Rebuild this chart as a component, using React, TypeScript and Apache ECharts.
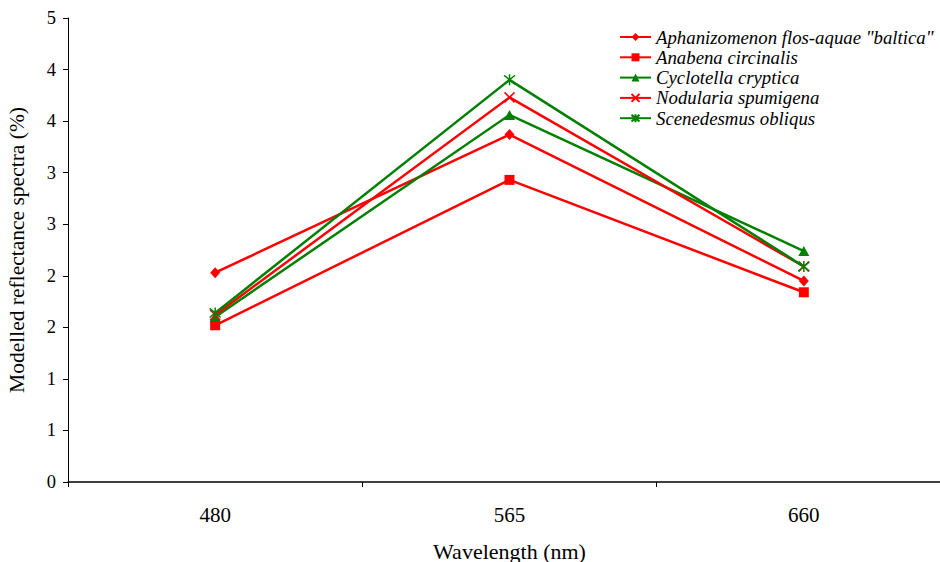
import React, { useEffect, useRef } from "react";
import * as echarts from "echarts";

// Wavelength categories (nm)
const wavelengths = ["480", "565", "660"];

// Modelled reflectance (%) per species
const aphanizomenon = [2.03, 3.37, 1.95];
const anabena = [1.52, 2.93, 1.84];
const cyclotella = [1.6, 3.56, 2.24];
const nodularia = [1.62, 3.73, 2.09];
const scenedesmus = [1.64, 3.9, 2.09];

const seriesNames = [
  'Aphanizomenon flos-aquae "baltica"',
  "Anabena circinalis",
  "Cyclotella cryptica",
  "Nodularia spumigena",
  "Scenedesmus obliqus",
];

const RED = "#ff0000";
const GREEN = "#008000";
const SERIF = "Liberation Serif";

const CROSS = "path://M0,0L10,10M10,0L0,10";
const STAR = "path://M0,0L10,10M10,0L0,10M5,-1L5,11";

export default function App() {
  const ref = useRef<HTMLDivElement>(null);

  useEffect(() => {
    if (!ref.current) return;
    const chart = echarts.init(ref.current, undefined, { renderer: "svg" });

    const line = (
      name: string,
      data: number[],
      color: string,
      symbol: string,
      symbolSize: number | number[],
      stroked = false
    ) => ({
      name,
      type: "line",
      data,
      symbol,
      symbolSize,
      showAllSymbol: true,
      lineStyle: { color, width: 2.5 },
      itemStyle: stroked
        ? { color: "rgba(0,0,0,0)", borderColor: color, borderWidth: 1.5 }
        : { color, borderWidth: 0 },
      emphasis: { disabled: true },
      z: 3,
    });

    chart.setOption({
      animation: false,
      backgroundColor: "#ffffff",
      textStyle: { fontFamily: SERIF },
      grid: { left: 68, top: 18, width: 883, height: 464, outerBoundsMode: "none", containLabel: false },
      legend: {
        orient: "vertical",
        left: 619,
        top: 27,
        padding: 0,
        itemWidth: 31,
        itemHeight: 10,
        itemGap: 0.3,
        textStyle: {
          fontFamily: SERIF,
          fontStyle: "italic",
          fontSize: 18.8,
          color: "#000",
          lineHeight: 20,
        },
        data: seriesNames,
      },
      xAxis: {
        type: "category",
        data: wavelengths,
        boundaryGap: true,
        name: "Wavelength (nm)",
        nameLocation: "middle",
        nameGap: 58,
        nameTextStyle: { fontFamily: SERIF, fontSize: 22, color: "#000" },
        axisLine: { lineStyle: { color: "#000", width: 1.5 } },
        axisTick: { show: true, length: 5, lineStyle: { color: "#000" } },
        axisLabel: {
          fontFamily: SERIF,
          fontSize: 21,
          color: "#000",
          margin: 22,
        },
        splitLine: { show: false },
      },
      yAxis: {
        type: "value",
        min: 0,
        max: 4.5,
        interval: 0.5,
        name: "Modelled reflectance spectra (%)",
        nameLocation: "middle",
        nameGap: 40,
        nameTextStyle: { fontFamily: SERIF, fontSize: 21.5, color: "#000" },
        axisLine: { show: true, lineStyle: { color: "#000", width: 1 } },
        axisTick: { show: true, length: 5, lineStyle: { color: "#000" } },
        axisLabel: {
          fontFamily: SERIF,
          fontSize: 18.5,
          color: "#000",
          margin: 12,
          formatter: (v: number) => String(Math.round(v)),
        },
        splitLine: { show: false },
      },
      series: [
        line(seriesNames[0], aphanizomenon, RED, "diamond", [10, 11]),
        line(seriesNames[1], anabena, RED, "rect", 10),
        line(seriesNames[2], cyclotella, GREEN, "triangle", [11, 10]),
        line(seriesNames[3], nodularia, RED, CROSS, 10, true),
        line(seriesNames[4], scenedesmus, GREEN, STAR, 11, true),
      ],
    });

    return () => chart.dispose();
  }, []);

  return <div ref={ref} style={{ width: 940, height: 562, position: "absolute", left: 0, top: 0 }} />;
}
